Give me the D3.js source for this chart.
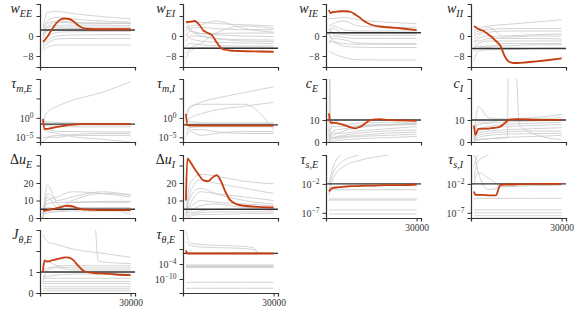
<!DOCTYPE html>
<meta charset="utf-8">
<script src="https://d3js.org/d3.v7.min.js"></script>
<style>
  body { margin: 0; background: #fff; }
  text { font-family: "Liberation Serif", "DejaVu Serif", serif; }
</style>
<div id="my_dataviz"></div>
<script>

  // training steps at which values were read
  var redTimes = [0, 500, 1500, 3000, 4500, 6000, 7500, 9000, 10500, 12000, 13500, 15000, 17500, 20000, 25000, 30000];
  var grayTimes = [0, 1500, 5000, 10000, 20000, 30000];

  // ---- w_EE
  var wEE_red = [-2.3, -1.8, -0.3, 2.5, 5, 6.6, 7, 6.8, 5.8, 4.3, 3.3, 2.9, 2.7, 2.7, 2.7, 2.7];
  var wEE_ref = 2.4;
  var wEE_gray = [
    [3, 9.5, 9.8, 9, 7.8, 6.8], [1, 6, 7.5, 6.8, 6, 5.6], [0, 4, 5.5, 5.2, 5, 5],
    [4, 5, 6, 5.5, 5.2, 5.2], [2, 3.5, 4.2, 4.4, 4.3, 4.2], [-1, 2, 3.5, 3.6, 3.5, 3.5],
    [-3, 0, 2.8, 3, 3, 3], [1, 2, 2.3, 2.2, 2.2, 2.2], [-2, -0.5, 1.5, 1.7, 1.8, 1.8],
    [-4, -2, 0, 0.4, 0.5, 0.5], [-5, -3, -1.2, -1, -1, -1], [-6, -4.5, -3.6, -3.6, -3.6, -3.6]];

  // ---- w_EI
  var wEI_red = [5.7, 5.6, 5.7, 6.0, 4.6, 2.2, 1.2, 0.2, -2.5, -4.8, -5.5, -5.8, -6.0, -6.1, -6.2, -6.3];
  var wEI_ref = -4.9;
  var wEI_gray = [
    [5, 5.5, 5.5, 5, 4.5, 4], [3, 4, 4.5, 6, 3, 1.5], [2, 3, 3.5, 3, 2.5, 2.5],
    [4, 2, 1, 1, 1.2, 1.2], [0, 2, 1, 0.5, 0, -0.2], [-2, 0, 0, -1, -1.5, -1.6],
    [1, -1, -2, -2.5, -2.8, -3], [-4, -3, -3.5, -3.8, -4, -4], [-7, -5, -3, 1, 4, 3],
    [-9, -6, -4.5, -4.5, -4.5, -4.5], [6, 3, 0, -1, -2, -2.2]];

  // ---- w_IE
  var wIE_red = [10.4, 9.2, 9.6, 9.8, 9.9, 9.9, 9.6, 8.6, 7.4, 6.0, 5.0, 4.3, 3.8, 3.5, 3.0, 2.4];
  var wIE_ref = 1.3;
  var wIE_gray = [
    [7, 7, 7.5, 6.5, 5.5, 5], [4, 5, 6, 4, 3.5, 3.5], [2, 4, 2.5, 2, 2, 2],
    [0, 3, 1, 1, 1, 1], [3, 1, 0.5, 0.3, 0.3, 0.3], [-1, 0, -0.5, -1, -1, -1],
    [-3, -1, -1.5, -2.8, -3, -3], [-2, -2.5, -4, -4.5, -4.6, -4.6],
    [-6, -7, -8.5, -9.5, -9.6, -9.6], [1, -2, -3, -3.3, -3.3, -3.3]];

  // ---- w_II
  var wII_red = [4, 3.6, 2.8, 2.2, 1, -0.3, -2, -3.8, -8, -10.3, -10.8, -10.8, -10.6, -10.3, -9.7, -9.0];
  var wII_ref = -5;
  var wII_gray = [
    [2, 3, 4, 4.5, 5.5, 6.5], [1, 2, 2.5, 3, 3, 3], [0, 1, 1.5, 2, 2, 2],
    [-1, 0, 3.5, 0, 0.5, 0.8], [-3, -1, 0, -0.5, 0, 0], [-2, -2, -1, -1, -1, -1.2],
    [-4, -3, -2, -2, -2, -2], [-5, -4, -4.5, -3, -3, -3], [-6, -5, -4, -4, -3.5, -3.5],
    [-10, -6, -5.5, -5.5, -5, -4.8]];

  // ---- tau_m,E (log10 values)
  var tmE_red = [-0.3, -2.8, -2.8, -2.6, -2.4, -2.2, -2.0, -1.8, -1.7, -1.65, -1.6, -1.6, -1.6, -1.6, -1.6, -1.6];
  var tmE_ref = -1.6;
  var tmE_gray = [
    [-1, 1.5, 3, 4.5, 6.5, 9.3], [-1, -1, -1.2, -1.3, -1.4, -1.4], [0, -1.5, -1.8, -1.8, -1.8, -1.8],
    [-2, -2, -2.2, -2.3, -2.3, -2.3], [-3, -3, -3.5, -3.5, -3.6, -3.6], [-3, -3.5, -4, -4.8, -5.5, -6.2],
    [-5, -5, -5, -4.5, -4.5, -4.5], [-6.2, -5, -4.5, -4.3, -4, -4]];

  // ---- tau_m,I (log10 values)
  var tmI_red = [1.0, -1.8, -2.0, -2.0, -2.0, -2.0, -2.0, -2.0, -2.0, -2.0, -2.0, -2.0, -2.0, -2.0, -2.0, -2.0];
  var tmI_ref = -1.8;
  var tmI_gray = [
    [0, 2.5, 4, 5, 6.5, 8], [1, 3, 3.5, 3.5, 3.5, -3], [-1, 0, 1, 2, 3, 4],
    [-1, -1, -1.2, -1.3, -1.3, -1.3], [-2, -1.5, -1.5, -1.5, -1.5, -1.5],
    [-3, -2.5, -2.3, -2.3, -2.3, -2.3], [-4, -3, -3, -3.5, -4, -4], [-5, -3.5, -4.5, -4, -3.5, -3.5]];

  // ---- c_E
  var cE_red = [13, 8.8, 8.7, 8.5, 8.0, 7.3, 6.6, 6.2, 6.8, 8.0, 9.5, 10.2, 10.4, 10.0, 9.8, 9.6];
  var cE_ref = 10;
  var cE_gray = [
    [0, 10, 8, 8.5, 9, 9], [1, 5, 6, 7, 8, 8.5], [2, 3, 5, 6.5, 7.5, 8], [3, 4, 4, 5, 6, 7],
    [0, 2, 3, 4, 5, 5.5], [1, 2, 2.5, 3, 4, 4.5], [2, 1.5, 2, 2.5, 3, 3.5],
    [0, 0.5, 1, 1.5, 2, 2.5], [5, 7, 7, 7.5, 8, 8]];
  var cE_extra = [[[0, 2], [300, 30], [600, 10], [1500, 9]]];

  // ---- c_I
  var cI_red = [7.5, 3.2, 6.0, 6.1, 6.1, 6.3, 6.5, 7.0, 8.5, 10.0, 10.3, 10.4, 10.3, 10.1, 10.0, 10.0];
  var cI_ref = 10;
  var cI_gray = [
    [2, 16, 11, 10.5, 11, 12.5], [3, 9, 9, 10, 10.5, 11], [4, 8, 8.5, 9, 9.5, 10],
    [2, 6, 7, 8, 8.5, 9], [1, 5, 6, 7, 7.5, 8], [1, 4, 5, 5.5, 6, 6.5],
    [0, 3, 4, 4.5, 5, 5], [0, 2, 3, 3.5, 3.8, 4], [0, 1, 1.5, 2, 2.5, 3]];
  var cI_extra = [[[0, 1], [5000, 1.5], [11500, 2], [11700, 30], [14500, 30], [15500, 8], [20000, 4], [30000, 1]]];

  // ---- Delta u_E
  var duE_red = [4, 4.2, 4.5, 5, 5.5, 6.2, 6.8, 7, 6.5, 5.5, 5, 4.8, 4.6, 4.5, 4.5, 4.5];
  var duE_ref = 5;
  var duE_gray = [
    [0, 19, 8, 6, 6, 6], [0, 14, 10, 12, 15, 13], [2, 12, 6, 10, 14, 13.5], [0, 10, 12, 15, 14, 12],
    [5, 8, 9, 9, 9.5, 9.5], [3, 6, 5, 9, 9, 9], [1, 4, 4, 5, 5.5, 5.5], [2, 3, 3.5, 4, 4, 4],
    [5, 5, 5, 5.5, 5.5, 2]];

  // ---- Delta u_I
  var duI_red = [10, 34, 32, 28, 24.5, 21.5, 21, 23, 24.5, 21, 15, 10.5, 7.8, 7, 6.3, 6];
  var duI_ref = 5;
  var duI_gray = [
    [5, 20, 25, 24, 21, 19.5], [3, 15, 22, 20, 17, 14], [2, 8, 15, 14, 12, 10], [1, 12, 17, 14, 10, 8],
    [4, 6, 10, 9, 8, 7], [2, 4, 7, 8, 6, 5.5], [3, 3, 4, 5, 5, 4.5], [1, 2, 3, 3.5, 3.5, 3.5],
    [0, 1, 2, 2, 2.5, 2.5]];

  // ---- tau_s,E (log10 values)
  var tsE_red = [-3.3, -3.0, -2.7, -2.6, -2.5, -2.45, -2.4, -2.4, -2.35, -2.3, -2.3, -2.3, -2.25, -2.2, -2.2, -2.1];
  var tsE_ref = -2.0;
  var tsE_gray = [
    [-2, 1, 3.5, 5, 6, 7], [-3, 0, 2, 3, 4, 5], [-4, -1, 1, 2, 3, 4],
    [-3, -2.5, -2.5, -2.4, -2.3, -2.3], [-3.5, -3, -3, -3, -3, -3],
    [-4.6, -4.6, -4.6, -4.6, -4.6, -4.6], [-4.8, -4.8, -4.8, -4.8, -4.8, -4.8],
    [-6.5, -6.5, -6.5, -6.5, -6.5, -6.5], [-7.2, -7.2, -7.2, -7.2, -7.2, -7.2]];

  // ---- tau_s,I (log10 values)
  var tsI_red = [-3.3, -3.9, -3.9, -3.9, -3.95, -4.0, -4.0, -2.2, -2.1, -2.1, -2.1, -2.05, -2.05, -2.0, -2.0, -2.0];
  var tsI_ref = -2.0;
  var tsI_gray = [
    [-1, 2, 3, 4, 5, 6], [1, 3, 3.5, 4, 5, 5.5], [-2, 0, -1, -2.5, -2.3, -2.2], [4, 0, -3, -2.5, -2.2, -2.2],
    [-4.5, -4.5, -4.5, -4.5, -4.5, -4.5], [-6.5, -6.5, -6.5, -6.5, -6.5, -6.5],
    [-7, -7, -7, -7, -7, -7], [-7.5, -7.5, -7.5, -7.5, -7.5, -7.5], [-7.9, -7.9, -7.9, -7.9, -7.9, -7.9]];

  // ---- J_theta,E
  var jE_red = [1.0, 1.55, 1.5, 1.55, 1.6, 1.65, 1.7, 1.68, 1.55, 1.3, 1.1, 1.0, 0.95, 0.93, 0.88, 0.85];
  var jE_ref = 1;
  var jE_gray = [
    [2.8, 2.45, 2.3, 2.1, 1.9, 1.7], [1.3, 1.5, 1.3, 1.3, 1.3, 1.3], [1, 1.2, 1.25, 1.2, 1.2, 1.2],
    [0.5, 1.1, 1.2, 1.1, 1.1, 1.1], [0.8, 0.8, 0.85, 0.9, 0.9, 0.9], [0.7, 0.7, 0.7, 0.7, 0.7, 0.7],
    [0.55, 0.55, 0.55, 0.55, 0.55, 0.55], [0.45, 0.45, 0.45, 0.45, 0.45, 0.45],
    [0.3, 0.3, 0.3, 0.3, 0.3, 0.3], [0.2, 0.2, 0.2, 0.2, 0.2, 0.2], [0.1, 0.1, 0.1, 0.1, 0.1, 0.1]];
  var jE_extra = [[[18000, 3.2], [18500, 2.0], [19000, 1.5], [30000, 1.4]]];

  // ---- tau_theta,E (log10 values)
  var ttE_red = [1.5, 0.2, 0.2, 0.2, 0.2, 0.2, 0.2, 0.2, 0.2, 0.2, 0.2, 0.2, 0.2, 0.2, 0.2, 0.2];
  var ttE_ref = 0.25;
  var ttE_gray = [
    [0.1, 0.1, 0.1, 0.1, 0.1, 0.1], [-4.4, -4.4, -4.4, -4.4, -4.4, -4.4], [-4.7, -4.7, -4.7, -4.7, -4.7, -4.7],
    [-5.0, -5.0, -5.0, -5.0, -5.0, -5.0], [-5.4, -5.4, -5.4, -5.4, -5.4, -5.4],
    [-11.3, -11.3, -11.3, -11.3, -11.3, -11.3], [-13.7, -13.7, -13.7, -13.7, -13.7, -13.7]];
  var ttE_extra = [
    [[0, 9], [1500, 4.5], [5000, 3.8], [20000, 3.0], [23000, 2.6], [24500, 0.5]],
    [[0, 5], [1500, 3.5], [5000, 2.8], [20000, 2.2], [23000, 1.8], [24500, 0.5]]];

  // tick sets
  var wTicks = [8, 0, -8], wTickLabels = ["", "0", "\u22128"];

  // panel table: label = [upright prefix, italic symbol, subscript]
  var panels = [
    { row: 0, col: 0, label: ["", "w", "EE"], red: wEE_red, gray: wEE_gray, ref: wEE_ref, domain: [-12.4, 12.8], ticks: wTicks, tl: wTickLabels },
    { row: 0, col: 1, label: ["", "w", "EI"], red: wEI_red, gray: wEI_gray, ref: wEI_ref, domain: [-12.4, 12.8], ticks: wTicks, tl: wTickLabels },
    { row: 0, col: 2, label: ["", "w", "IE"], red: wIE_red, gray: wIE_gray, ref: wIE_ref, domain: [-12.4, 12.8], ticks: wTicks, tl: wTickLabels },
    { row: 0, col: 3, label: ["", "w", "II"], red: wII_red, gray: wII_gray, ref: wII_ref, domain: [-12.4, 12.8], ticks: wTicks, tl: wTickLabels },
    { row: 1, col: 0, label: ["", "\u03c4", "m,E"], red: tmE_red, gray: tmE_gray, ref: tmE_ref, log: true, domain: [-6.2, 10], ticks: [10, 5, 0, -5], tl: ["", "", "0", "\u22125"] },
    { row: 1, col: 1, label: ["", "\u03c4", "m,I"], red: tmI_red, gray: tmI_gray, ref: tmI_ref, log: true, domain: [-6.2, 10], ticks: [10, 5, 0, -5], tl: ["", "", "0", "\u22125"] },
    { row: 1, col: 2, label: ["", "c", "E"], red: cE_red, gray: cE_gray, extra: cE_extra, ref: cE_ref, domain: [0, 28.6], ticks: [20, 10, 0], tl: ["", "10", "0"] },
    { row: 1, col: 3, label: ["", "c", "I"], red: cI_red, gray: cI_gray, extra: cI_extra, ref: cI_ref, domain: [0, 28.6], ticks: [20, 10, 0], tl: ["", "10", "0"] },
    { row: 2, col: 0, label: ["\u0394", "u", "E"], red: duE_red, gray: duE_gray, ref: duE_ref, domain: [0, 36], ticks: [30, 20, 10, 0], tl: ["", "20", "10", "0"] },
    { row: 2, col: 1, label: ["\u0394", "u", "I"], red: duI_red, gray: duI_gray, ref: duI_ref, domain: [0, 36], ticks: [30, 20, 10, 0], tl: ["", "20", "10", "0"] },
    { row: 2, col: 2, label: ["", "\u03c4", "s,E"], red: tsE_red, gray: tsE_gray, ref: tsE_ref, log: true, domain: [-7.9, 3], ticks: [3, -2, -7], tl: ["", "\u22122", "\u22127"], xlab: true },
    { row: 2, col: 3, label: ["", "\u03c4", "s,I"], red: tsI_red, gray: tsI_gray, ref: tsI_ref, log: true, domain: [-7.9, 3], ticks: [3, -2, -7], tl: ["", "\u22122", "\u22127"], xlab: true },
    { row: 3, col: 0, label: ["", "J", "\u03b8,E"], red: jE_red, gray: jE_gray, extra: jE_extra, ref: jE_ref, domain: [0, 3], ticks: [2, 1, 0], tl: ["", "1", "0"], xlab: true },
    { row: 3, col: 1, label: ["", "\u03c4", "\u03b8,E"], red: ttE_red, gray: ttE_gray, extra: ttE_extra, ref: ttE_ref, log: true, domain: [-15.6, 9.6], ticks: [2, -4, -10], tl: ["", "\u22124", "\u221210"], xlab: true }
  ];

  var colLeft = [40, 183, 326, 471],
    rowTop = [4, 79, 155, 230],
    pw = 95, ph = 63;

  var svg = d3.select("#my_dataviz")
    .append("svg")
    .attr("width", 575)
    .attr("height", 313);

  panels.forEach(function (p, i) {
    var g = svg.append("g")
      .attr("transform", "translate(" + colLeft[p.col] + "," + rowTop[p.row] + ")");

    var x = d3.scaleLinear().domain([-1000, 31500]).range([0, pw]);
    var y = p.log
      ? d3.scaleLog().domain([Math.pow(10, p.domain[0]), Math.pow(10, p.domain[1])]).range([ph, 0])
      : d3.scaleLinear().domain(p.domain).range([ph, 0]);
    var val = p.log ? function (v) { return Math.pow(10, v); } : function (v) { return v; };

    g.append("clipPath").attr("id", "clip" + i)
      .append("rect").attr("width", pw).attr("height", ph);
    var plot = g.append("g").attr("clip-path", "url(#clip" + i + ")");

    var line = d3.line()
      .x(function (d) { return x(d[0]); })
      .y(function (d) { return y(val(d[1])); })
      .curve(d3.curveMonotoneX);

    // gray runs
    p.gray.forEach(function (s) {
      plot.append("path")
        .datum(grayTimes.map(function (t, k) { return [t, s[k]]; }))
        .attr("fill", "none").attr("stroke", "#c8c8c8").attr("stroke-width", 0.8)
        .attr("d", line);
    });
    (p.extra || []).forEach(function (s) {
      plot.append("path")
        .datum(s)
        .attr("fill", "none").attr("stroke", "#c8c8c8").attr("stroke-width", 0.8)
        .attr("d", line);
    });

    // target value
    plot.append("line")
      .attr("x1", 0).attr("x2", pw)
      .attr("y1", y(val(p.ref))).attr("y2", y(val(p.ref)))
      .attr("stroke", "#333").attr("stroke-width", 1.4);

    // fitted run
    plot.append("path")
      .datum(redTimes.map(function (t, k) { return [t, p.red[k]]; }))
      .attr("fill", "none").attr("stroke", "#c63d10").attr("stroke-width", 1.8)
      .attr("d", line);

    // y axis
    var ya = g.append("g")
      .call(d3.axisLeft(y)
        .tickValues(p.ticks.map(val))
        .tickSizeOuter(0).tickSize(3.5).tickPadding(3)
        .tickFormat(function () { return ""; }));
    ya.select(".domain").attr("stroke", "#333").attr("stroke-width", 1.2);
    ya.selectAll(".tick line").attr("stroke", "#333").attr("stroke-width", 1);
    ya.selectAll(".tick text")
      .attr("fill", "#333").style("font-size", "10px")
      .each(function (d, k) {
        var t = d3.select(this);
        if (!p.tl[k]) return;
        if (p.log) {
          t.append("tspan").text("10");
          t.append("tspan").attr("dy", "-0.45em").style("font-size", "7.5px").text(p.tl[k]);
        } else {
          t.text(p.tl[k]);
        }
      });

    // x axis
    var xa = g.append("g")
      .attr("transform", "translate(0," + ph + ")")
      .call(d3.axisBottom(x)
        .tickValues(p.xlab ? [30000] : [])
        .tickSizeOuter(0).tickSize(3.5).tickPadding(3)
        .tickFormat(d3.format("d")));
    xa.select(".domain").attr("stroke", "#333").attr("stroke-width", 1.2);
    xa.selectAll(".tick line").attr("stroke", "#333");
    xa.selectAll(".tick text").attr("fill", "#333").style("font-size", "9.5px");

    // panel label
    var lab = g.append("text")
      .attr("x", -8).attr("y", 9)
      .attr("text-anchor", "end")
      .attr("fill", "#222")
      .style("font-size", "14px");
    if (p.label[0]) lab.append("tspan").text(p.label[0]);
    lab.append("tspan").style("font-style", "italic").text(p.label[1]);
    lab.append("tspan").attr("dy", 3.5).style("font-size", "10px").style("font-style", "italic").text(p.label[2]);
  });

</script>
